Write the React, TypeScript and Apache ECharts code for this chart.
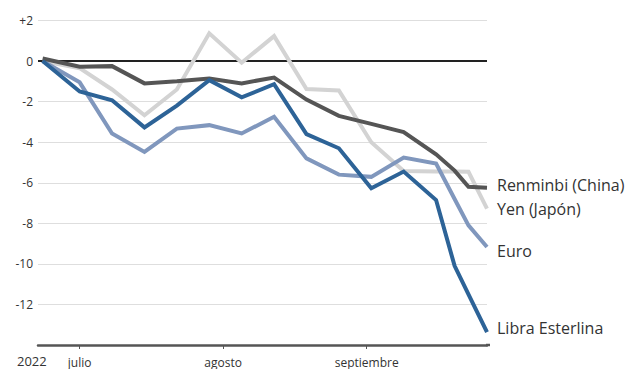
import React, { useEffect, useRef } from "react";
import * as echarts from "echarts";

// Observation dates (2022) and the change against the dollar, in %
const dates = [
  "2022-06-23", "2022-07-01", "2022-07-08", "2022-07-15", "2022-07-22",
  "2022-07-29", "2022-08-05", "2022-08-12", "2022-08-19", "2022-08-26",
  "2022-09-02", "2022-09-09", "2022-09-16", "2022-09-20", "2022-09-23",
  "2022-09-27",
];
const renminbi = [0.13, -0.28, -0.25, -1.1, -1.0, -0.86, -1.1, -0.81, -1.9, -2.7, -3.1, -3.5, -4.6, -5.4, -6.2, -6.25];
const yen = [0, -0.35, -1.4, -2.67, -1.4, 1.37, -0.08, 1.23, -1.38, -1.45, -4.0, -5.42, -5.45, -5.45, -5.46, -7.28];
const euro = [0, -1.05, -3.57, -4.48, -3.33, -3.16, -3.57, -2.75, -4.8, -5.6, -5.71, -4.76, -5.05, -6.8, -8.1, -9.17];
const libra = [0, -1.5, -1.93, -3.27, -2.2, -0.94, -1.79, -1.14, -3.6, -4.3, -6.27, -5.45, -6.85, -10.1, -11.5, -13.37];

const monthTicks = ["2022-07-01", "2022-08-01", "2022-09-01"];
const monthLabels = ["julio", "agosto", "septiembre"];
const yearLabel = "2022";

const seriesNames = ["Yen (Japón)", "Euro", "Renminbi (China)", "Libra Esterlina"];

const DAY = 86400000;
const origin = Date.parse("2022-07-01");
const toDay = (d: string) => Math.round((Date.parse(d) - origin) / DAY);

const X_MIN = -9;
const X_MAX = 88;
const FONT = "'Open Sans', Roboto, sans-serif";

export default function App() {
  const ref = useRef<HTMLDivElement>(null);

  useEffect(() => {
    if (!ref.current) return;
    const chart = echarts.init(ref.current, undefined, { renderer: "svg" });
    const days = dates.map(toDay);
    const tickDays = monthTicks.map(toDay);
    const pair = (vals: number[]) => vals.map((v, i) => [days[i], v]);

    const lineSeries = (
      name: string,
      vals: number[],
      color: string,
      z: number,
      offsetY: number
    ) => ({
      type: "line",
      name,
      data: pair(vals),
      showSymbol: false,
      symbol: "none",
      z,
      lineStyle: { color, width: 4, cap: "butt", join: "miter" },
      endLabel: {
        show: true,
        formatter: name,
        color: "#333",
        fontFamily: FONT,
        fontSize: 16,
        distance: 10,
        offset: [0, offsetY],
      },
      emphasis: { disabled: true },
    });

    chart.setOption({
      animation: false,
      textStyle: { fontFamily: FONT },
      grid: { left: 38, right: 151, top: 20.5, bottom: 24 },
      xAxis: {
        type: "value",
        min: X_MIN,
        max: X_MAX,
        axisLine: { show: true, onZero: false, lineStyle: { color: "#555", width: 2.5 } },
        axisTick: {
          show: true,
          customValues: tickDays,
          length: 4,
          lineStyle: { color: "#555", width: 1 },
        },
        axisLabel: {
          show: true,
          customValues: tickDays,
          formatter: (v: number) => {
            const i = tickDays.indexOf(v);
            return i >= 0 ? monthLabels[i] : "";
          },
          color: "#333",
          fontSize: 12,
          fontFamily: FONT,
          margin: 11,
        },
        splitLine: { show: false },
      },
      yAxis: {
        type: "value",
        min: -14,
        max: 2,
        interval: 2,
        axisLine: { show: false },
        axisTick: { show: false },
        axisLabel: {
          formatter: (v: number) => (v === -14 ? "" : v > 0 ? "+" + v : String(v)),
          color: "#333",
          fontSize: 12,
          fontFamily: FONT,
          margin: 5,
        },
        splitLine: { show: true, lineStyle: { color: "#dedede", width: 1 } },
      },
      graphic: [
        {
          type: "text",
          left: 17,
          top: 354,
          style: { text: yearLabel, fill: "#333", fontSize: 13, fontFamily: FONT },
        },
        {
          // short extension of the baseline past the last observation
          type: "line",
          shape: { x1: 486, y1: 345, x2: 490, y2: 345 },
          style: { stroke: "#555", lineWidth: 2.5 },
        },
      ],
      series: [
        {
          type: "line",
          name: "cero",
          data: [
            [X_MIN, 0],
            [X_MAX, 0],
          ],
          showSymbol: false,
          symbol: "none",
          z: 1,
          lineStyle: { color: "#222", width: 2 },
          emphasis: { disabled: true },
        },
        lineSeries(seriesNames[0], yen, "#d3d3d3", 2, 0),
        lineSeries(seriesNames[1], euro, "#8097bd", 3, 4),
        lineSeries(seriesNames[2], renminbi, "#555555", 4, -3),
        lineSeries(seriesNames[3], libra, "#2d6397", 5, -4),
      ],
    });
    return () => chart.dispose();
  }, []);

  return (
    <div
      ref={ref}
      style={{ position: "absolute", left: 0, top: 0, width: 638, height: 369 }}
    />
  );
}
